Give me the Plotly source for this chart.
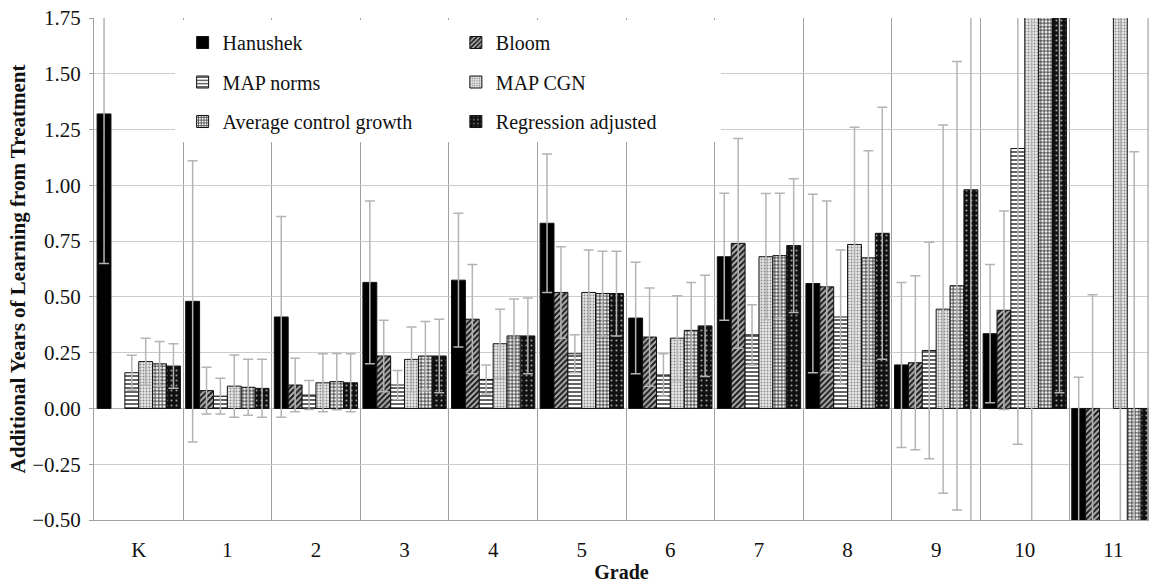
import plotly.graph_objects as go

# Grades on the horizontal axis
grades = ["K", "1", "2", "3", "4", "5", "6", "7", "8", "9", "10", "11"]

# Additional years of learning from treatment, by benchmark, with error half-widths
hanushek = [1.32, 0.48, 0.41, 0.565, 0.575, 0.83, 0.405, 0.68, 0.56, 0.195, 0.335, -0.80]
hanushek_err = [0.67, 0.63, 0.45, 0.365, 0.30, 0.31, 0.25, 0.285, 0.40, 0.37, 0.31, 0.94]

bloom = [None, 0.08, 0.105, 0.235, 0.40, 0.52, 0.32, 0.74, 0.545, 0.205, 0.44, -0.70]
bloom_err = [0.0, 0.105, 0.12, 0.16, 0.245, 0.205, 0.22, 0.47, 0.385, 0.39, 0.445, 1.21]

map_norms = [0.16, 0.055, 0.06, 0.105, 0.13, 0.245, 0.15, 0.33, 0.41, 0.26, 1.165, None]
map_norms_err = [0.078, 0.08, 0.065, 0.065, 0.065, 0.085, 0.095, 0.135, 0.30, 0.485, 1.325, 0.0]

map_cgn = [0.21, 0.10, 0.115, 0.22, 0.29, 0.52, 0.315, 0.68, 0.735, 0.445, 2.4, 2.6]
map_cgn_err = [0.105, 0.14, 0.13, 0.145, 0.155, 0.19, 0.19, 0.283, 0.525, 0.825, 3.0, 3.2]

avg_control = [0.20, 0.095, 0.12, 0.235, 0.325, 0.515, 0.35, 0.685, 0.675, 0.55, 2.3, -0.85]
avg_control_err = [0.10, 0.125, 0.126, 0.155, 0.165, 0.19, 0.215, 0.28, 0.48, 1.005, 0.4, 2.0]

regression = [0.19, 0.09, 0.115, 0.235, 0.325, 0.515, 0.37, 0.73, 0.785, 0.98, 2.5, -0.9]
regression_err = [0.10, 0.13, 0.13, 0.165, 0.17, 0.19, 0.227, 0.30, 0.565, 1.6, 2.43, 2.8]

FONT = "Liberation Serif, Times New Roman, Times, DejaVu Serif, serif"

series = [
    ("Hanushek", hanushek, hanushek_err, dict(shape="", fgcolor="#000", bgcolor="#000"), "legend"),
    ("Bloom", bloom, bloom_err, dict(shape="/", fgcolor="#1a1a1a", bgcolor="#b0b0b0", size=4, solidity=0.5), "legend2"),
    ("MAP norms", map_norms, map_norms_err, dict(shape="-", fgcolor="#222", bgcolor="#ffffff", size=4, solidity=0.35), "legend"),
    ("MAP CGN", map_cgn, map_cgn_err, dict(shape=".", fgcolor="#8a8a8a", bgcolor="#e8e8e8", size=3, solidity=0.3), "legend2"),
    ("Average control growth", avg_control, avg_control_err, dict(shape="+", fgcolor="#1a1a1a", bgcolor="#f4f4f4", size=3.5, solidity=0.4), "legend"),
    ("Regression adjusted", regression, regression_err, dict(shape=".", fgcolor="#9a9a9a", bgcolor="#111", size=5, solidity=0.15), "legend2"),
]

fig = go.Figure()
for name, vals, errs, pat, leg in series:
    fig.add_trace(go.Bar(
        name=name,
        x=grades,
        y=vals,
        legend=leg,
        legendgroup=name,
        marker=dict(
            color=pat["bgcolor"],
            line=dict(color="#111", width=1),
            pattern=dict(fillmode="replace", **pat),
        ),
        error_y=dict(type="data", array=errs, visible=True,
                     color="#b4b4b4", thickness=1.5, width=5),
    ))

legend_style = dict(
    font=dict(family=FONT, size=20, color="#111"),
    bgcolor="rgba(0,0,0,0)",
    orientation="v",
    xanchor="left",
    yanchor="top",
    y=0.99,
    tracegroupgap=10.5,
    itemclick=False,
)

fig.update_layout(
    width=1149,
    height=583,
    margin=dict(l=94, r=0, t=18, b=63),
    paper_bgcolor="white",
    plot_bgcolor="white",
    barmode="group",
    bargap=0.06,
    bargroupgap=0,
    font=dict(family=FONT, size=20, color="#111"),
    legend=dict(x=0.084, **legend_style),
    legend2=dict(x=0.343, **legend_style),
    xaxis=dict(
        type="category",
        range=[-0.505, 11.402],
        tickson="boundaries",
        ticks="",
        showgrid=True,
        gridcolor="#a0a0a0",
        gridwidth=1,
        showline=True,
        linecolor="#a0a0a0",
        tickfont=dict(family=FONT, size=21, color="#111"),
        ticklabelstandoff=11,
        title=dict(text="<b>Grade</b>", font=dict(family=FONT, size=20, color="#111"), standoff=3),
        automargin=False,
    ),
    yaxis=dict(
        range=[-0.5, 1.75],
        tickmode="linear",
        tick0=-0.5,
        dtick=0.25,
        tickformat=".2f",
        showgrid=True,
        gridcolor="#cccccc",
        gridwidth=1,
        zeroline=True,
        zerolinecolor="#b0b0b0",
        zerolinewidth=1,
        showline=True,
        linecolor="#a0a0a0",
        ticks="outside",
        ticklen=4,
        tickcolor="#a0a0a0",
        tickfont=dict(family=FONT, size=21, color="#111"),
        ticklabelstandoff=4,
        title=dict(text="<b>Additional Years of Learning from Treatment</b>",
                   font=dict(family=FONT, size=21, color="#111"), standoff=0),
        automargin=False,
    ),
    shapes=[
        # white panel behind the legend entries
        dict(type="rect", xref="paper", yref="paper",
             x0=0.0768, x1=0.5943, y0=0.753, y1=0.996,
             fillcolor="white", line=dict(width=0), layer="above"),
    ],
)

fig.write_html("out.html")
